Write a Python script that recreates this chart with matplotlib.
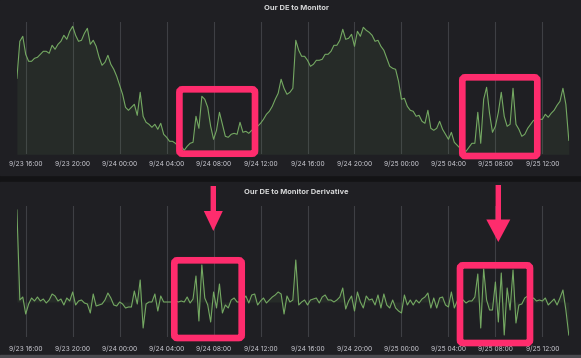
import pandas as pd
import matplotlib
matplotlib.use('Agg')
import matplotlib.pyplot as plt
import matplotlib.dates as mdates
from matplotlib.patches import FancyBboxPatch, Polygon, Rectangle

# 15 minute samples, 9/23 15:15 -> 9/25 14:15
times = pd.date_range('2023-09-23 15:15', periods=189, freq='15min')

de_to_monitor = [
    76, 113, 118, 100, 93, 93, 96, 97, 100, 103,
    103, 101, 109, 105, 110, 113, 119, 115, 123, 128,
    119, 113, 114, 121, 126, 110, 114, 108, 97, 89,
    92, 99, 90, 85, 78, 69, 60, 47, 44, 47,
    50, 39, 62, 38, 32, 30, 27, 30, 25, 31,
    20, 17, 13, 13, 11, 8, 8, 4, 8, 11,
    12, 38, 26, 58, 55, 47, 28, 15, 24, 42,
    30, 18, 17, 20, 21, 20, 32, 22, 23, 21,
    24, 26, 28, 31, 35, 40, 43, 48, 55, 61,
    75, 66, 60, 62, 66, 114, 104, 98, 98, 94,
    88, 90, 94, 94, 95, 100, 100, 103, 109, 109,
    114, 125, 115, 116, 120, 108, 123, 118, 127, 124,
    122, 119, 113, 114, 108, 104, 96, 88, 86, 85,
    73, 55, 56, 48, 44, 43, 38, 39, 33, 31,
    44, 26, 24, 26, 33, 25, 20, 15, 22, 12,
    9, 6, 4, 3, 7, 11, 11, 42, 11, 55,
    67, 41, 22, 28, 42, 62, 38, 28, 30, 66,
    30, 25, 18, 20, 26, 30, 34, 34, 35, 35,
    40, 37, 41, 44, 49, 53, 66, 50, 14,
]

de_derivative = [
    92, 2, 5, -12, -2, 4, 1, 5, 1, 3,
    -1, 2, 8, 6, 1, 3, -3, 4, 1, 10,
    -3, 1, 2, -1, -2, -11, 8, -4, -3, -2,
    2, 9, 4, -3, -4, 0, -2, -6, -5, -5,
    11, -2, 22, -26, -2, 0, 0, 8, -9, 6,
    0, 0, 0, 0, 1, 0, 1, 0, 5, -1,
    3, 26, -19, 37, 4, -3, -20, 10, -6, 18,
    -11, -3, -6, 2, 4, 0, 0, 2, 6, -1,
    7, 8, -3, 1, 4, -1, 2, 5, 7, 10,
    8, -12, 6, 0, 2, 42, -3, 0, 2, -3,
    2, 3, 4, -1, 5, 7, 2, 2, 0, 2,
    5, 14, -7, 1, 6, -9, 10, 0, -6, 6,
    2, 3, -3, 7, -6, 8, -3, -6, 2, -6,
    -9, -11, 7, -3, 2, -3, 2, -1, 3, 5,
    9, -6, 4, -6, 4, 5, -3, -5, 10, -6,
    1, 5, 2, -1, 1, 1, 5, 28, -26, 33,
    2, -8, -8, 20, -20, 29, -33, 14, -8, 32,
    -21, -3, -2, 4, 6, 2, 4, 1, 2, 1,
    4, -3, 0, 3, -3, 4, 12, -8, -33,
]

plt.rcParams['font.family'] = ['Inter', 'DejaVu Sans']

W, H = 581, 358
panel_bg = '#1f1f23'
line_col = '#74a862'
pink = '#fe2c6d'

fig = plt.figure(figsize=(W / 100, H / 100), dpi=100, facecolor='#131315')

# panel backgrounds
fig.add_artist(Rectangle((0, 1 - 175 / H), 1, 175 / H, transform=fig.transFigure,
                         color=panel_bg, zorder=0))
fig.add_artist(Rectangle((0, 3 / H), 1, (355 - 182) / H, transform=fig.transFigure,
                         color=panel_bg, zorder=0))
fig.add_artist(Rectangle((0, 0), 1, 3 / H, transform=fig.transFigure,
                         color='#4a4a4f', zorder=0))


def px_axes(x0, y0, x1, y1):
    return fig.add_axes([x0 / W, 1 - y1 / H, (x1 - x0) / W, (y1 - y0) / H])


def style(ax, pad):
    ax.set_facecolor('none')
    for s in ax.spines.values():
        s.set_visible(False)
    ax.set_yticks([])
    ax.set_xlim(times[0], times[-1])
    ax.xaxis.set_major_locator(mdates.HourLocator(byhour=range(0, 24, 4)))
    ax.xaxis.set_major_formatter(mdates.DateFormatter('%-m/%d %H:%M'))
    ax.tick_params(axis='x', length=0, labelsize=4.8, colors='#c8c8d0', pad=pad)
    ax.grid(axis='x', color='#3e3f44', lw=0.8)
    ax.set_axisbelow(True)


ax1 = px_axes(16.9, 22, 568.8, 154.3)
ax1.plot(times, de_to_monitor, color=line_col, lw=0.8)
ax1.fill_between(times, de_to_monitor, 0, color=line_col, alpha=0.09, lw=0)
ax1.set_ylim(0, 132.3)
style(ax1, 4.2)

ax2 = px_axes(16.9, 206, 568.8, 337)
ax2.plot(times, de_derivative, color=line_col, lw=0.8)
ax2.fill_between(times, de_derivative, 0, color=line_col, alpha=0.09, lw=0)
ax2.set_ylim(-35, 96)
style(ax2, 5.8)

fig.text(296 / W, 1 - 7.5 / H, 'Our DE to Monitor', ha='center', va='center',
         fontsize=5.4, fontweight='bold', color='#d8d9da')
fig.text(296 / W, 1 - 192 / H, 'Our DE to Monitor Derivative', ha='center', va='center',
         fontsize=5.4, fontweight='bold', color='#d8d9da')

# pink highlight annotations
ov = fig.add_axes([0, 0, 1, 1])
ov.set_xlim(0, W)
ov.set_ylim(H, 0)
ov.axis('off')
ov.patch.set_alpha(0)

boxes = [(179.4, 89.3, 255, 153.7), (462.3, 77.3, 537.3, 156),
         (174.3, 260.3, 241.7, 338), (460, 265.3, 530, 343)]
for x0, y0, x1, y1 in boxes:
    ov.add_patch(FancyBboxPatch((x0, y0), x1 - x0, y1 - y0,
                                boxstyle='round,pad=0,rounding_size=3',
                                fill=False, ec=pink, lw=4.8))

arrows = [(213.3, 186, 211, 231, 2.7, 9.5), (498.3, 185, 219.5, 242, 2.7, 12)]
for x, top, neck, tip, sw, hw in arrows:
    ov.add_patch(Polygon([(x - sw, top), (x + sw, top), (x + sw, neck), (x + hw, neck),
                          (x, tip), (x - hw, neck), (x - sw, neck)],
                         closed=True, color=pink, lw=0))

fig.savefig('out.png', dpi=100, facecolor=fig.get_facecolor())
